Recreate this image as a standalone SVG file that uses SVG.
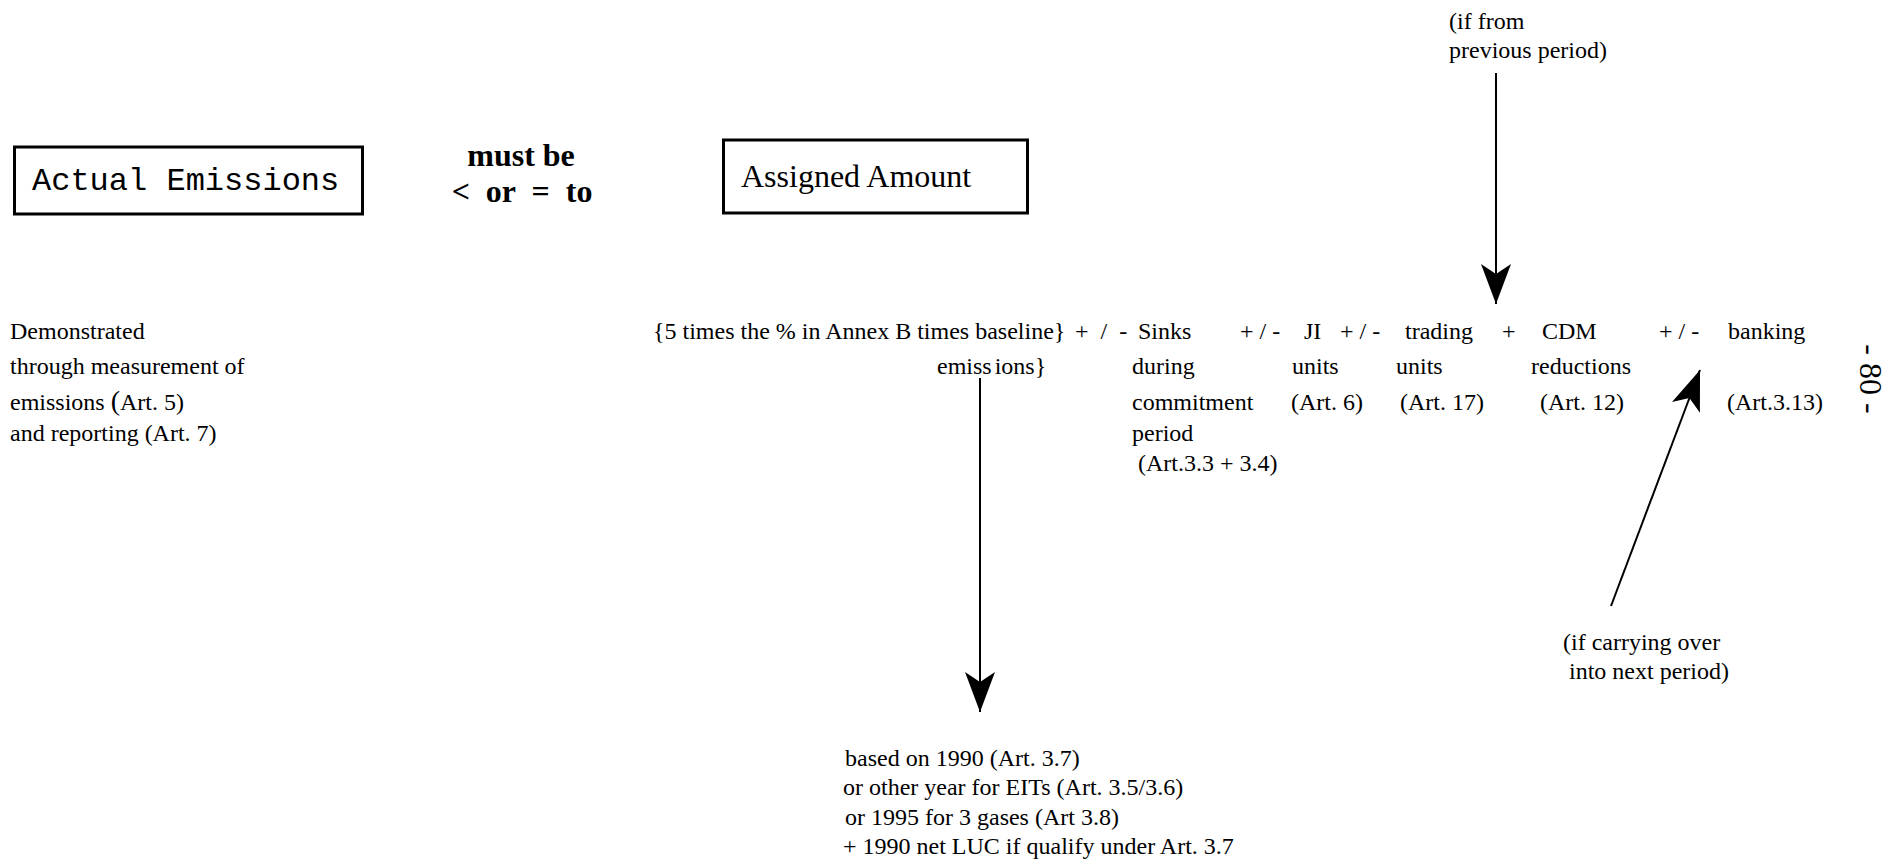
<svg xmlns="http://www.w3.org/2000/svg" width="1886" height="860" viewBox="0 0 1886 860">
<style>
.t{font-family:"Liberation Serif","Times New Roman",serif;font-size:24px;fill:#000}
.b{font-family:"Liberation Serif","Times New Roman",serif;font-size:32px;font-weight:bold;fill:#000}
.big{font-family:"Liberation Serif","Times New Roman",serif;font-size:32px;fill:#000}
.mono{font-family:"Liberation Mono","Courier New",monospace;font-size:32px;fill:#000}
.box{fill:#fff;stroke:#000;stroke-width:3}
.conn{stroke:#000;stroke-width:2;fill:none}
</style>
<defs>
<marker id="ah" markerUnits="userSpaceOnUse" markerWidth="40" markerHeight="30" viewBox="0 0 40 30" refX="40" refY="15" orient="auto">
<path d="M0,0 L40,15 L0,30 L10,15 Z" fill="#000"/>
</marker>
</defs>
<rect width="1886" height="860" fill="#fff"/>

<g id="actual-emissions">
<rect class="box" x="14.5" y="147" width="348" height="67"/>
<text class="mono" x="32" y="190">Actual Emissions</text>
</g>

<g id="must-be">
<text class="b" x="521" y="166" text-anchor="middle">must be</text>
<text class="b" x="522" y="202" text-anchor="middle" xml:space="preserve">&lt;  or  =  to</text>
</g>

<g id="assigned-amount">
<rect class="box" x="723.5" y="140" width="304" height="73"/>
<text class="big" x="741" y="187">Assigned Amount</text>
</g>

<g id="demonstrated">
<text class="t" x="10" y="339">Demonstrated</text>
<text class="t" x="10" y="374">through measurement of</text>
<text class="t" x="10" y="410">emissions <tspan style="font-size:28px">(</tspan>Art. 5)</text>
<text class="t" x="10" y="441">and reporting (Art. 7)</text>
</g>

<g id="baseline">
<text class="t" x="653" y="339">{5 times the % in Annex B times baseline}</text>
<text class="t" x="937" y="374">emiss<tspan dx="3">ions}</tspan></text>
</g>

<g id="op1">
<text class="t" x="1075" y="339" xml:space="preserve">+  /  -</text>
</g>

<g id="sinks">
<text class="t" x="1138" y="339">Sinks</text>
<text class="t" x="1132" y="374">during</text>
<text class="t" x="1132" y="410">commitment</text>
<text class="t" x="1132" y="441">period</text>
<text class="t" x="1138" y="471">(Art.3.3 + 3.4)</text>
</g>

<g id="op2">
<text class="t" x="1240" y="339">+ / -</text>
</g>

<g id="ji">
<text class="t" x="1304" y="339">JI</text>
<text class="t" x="1292" y="374">units</text>
<text class="t" x="1291" y="410">(Art. 6)</text>
</g>

<g id="op3">
<text class="t" x="1340" y="339">+ / -</text>
</g>

<g id="trading">
<text class="t" x="1405" y="339">trading</text>
<text class="t" x="1396" y="374">units</text>
<text class="t" x="1400" y="410">(Art. 17)</text>
</g>

<g id="op4">
<text class="t" x="1502" y="339">+</text>
</g>

<g id="cdm">
<text class="t" x="1542" y="339">CDM</text>
<text class="t" x="1531" y="374">reductions</text>
<text class="t" x="1540" y="410">(Art. 12)</text>
</g>

<g id="op5">
<text class="t" x="1659" y="339">+ / -</text>
</g>

<g id="banking">
<text class="t" x="1728" y="339">banking</text>
<text class="t" x="1727" y="410">(Art.3.13)</text>
</g>

<g id="if-from">
<text class="t" x="1449" y="29">(if from</text>
<text class="t" x="1449" y="58">previous period)</text>
</g>

<g id="if-carrying">
<text class="t" x="1563" y="650">(if carrying over</text>
<text class="t" x="1569" y="679">into next period)</text>
</g>

<g id="based-on">
<text class="t" x="845" y="766">based on 1990 (Art. 3.7)</text>
<text class="t" x="843" y="795">or other year for EITs (Art. 3.5/3.6)</text>
<text class="t" x="845" y="825">or 1995 for 3 gases (Art 3.8)</text>
<text class="t" x="843" y="854">+ 1990 net LUC if qualify under Art. 3.7</text>
</g>

<g id="page-number">
<text class="t" style="font-size:32px" text-anchor="middle" xml:space="preserve" transform="translate(1860,379) rotate(90)">- 80 -</text>
</g>

<g id="connectors">
<line class="conn" x1="1496" y1="73" x2="1496" y2="304" marker-end="url(#ah)"/>
<line class="conn" x1="980" y1="378" x2="980" y2="712" marker-end="url(#ah)"/>
<line class="conn" x1="1611" y1="606" x2="1700" y2="370" marker-end="url(#ah)"/>
</g>
</svg>
